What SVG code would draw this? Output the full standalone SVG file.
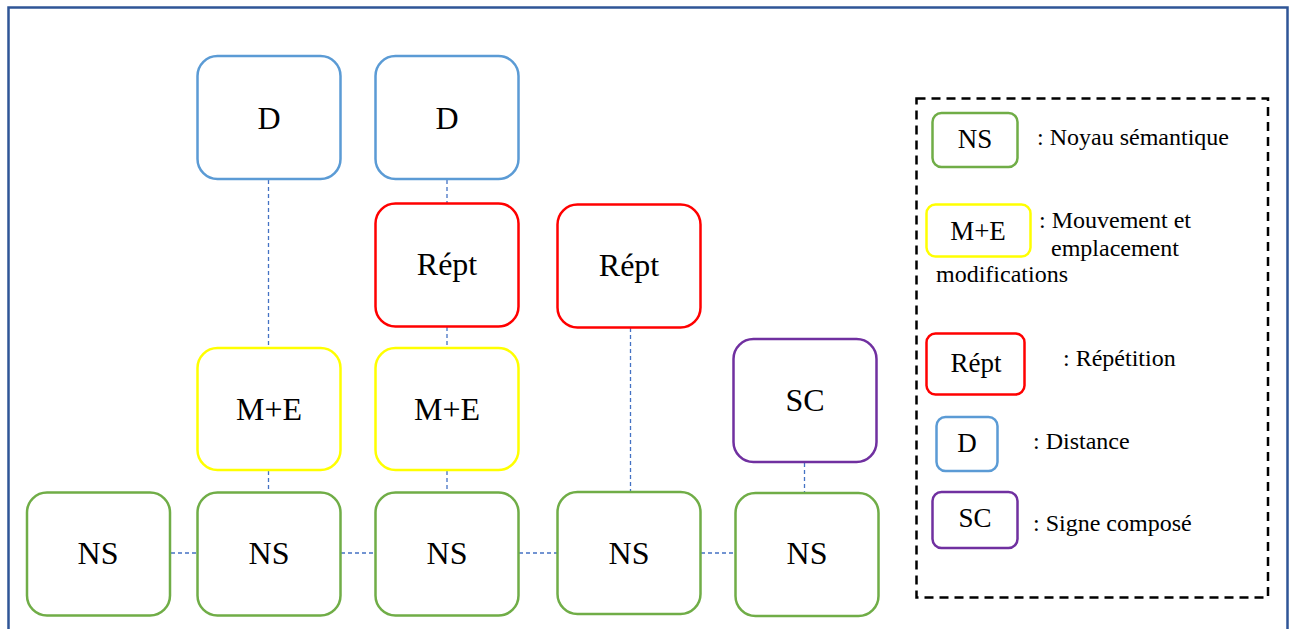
<svg xmlns="http://www.w3.org/2000/svg" width="1294" height="629" viewBox="0 0 1294 629">
<style>
.n{fill:#fff;stroke-width:2.5}
.ns{stroke:#70ad47}.d{stroke:#5b9bd5}.r{stroke:#ff0000}.me{stroke:#ffff00}.sc{stroke:#7030a0}
.t{font-size:32px;text-anchor:middle}
.lt{font-size:27px;text-anchor:middle}
.lb{font-size:24px}
.c line{stroke:#4472c4;stroke-width:1.3;stroke-dasharray:4 3}
</style>
<rect x="8.5" y="7.5" width="1279" height="700" fill="#fff" stroke="#2f5597" stroke-width="2.5"/>
<g class="c" id="connectors">
<line x1="268.5" y1="180" x2="268.5" y2="348"/>
<line x1="447" y1="180" x2="447" y2="203"/>
<line x1="447" y1="327" x2="447" y2="348"/>
<line x1="268.5" y1="471" x2="268.5" y2="492"/>
<line x1="447" y1="471" x2="447" y2="492"/>
<line x1="630.5" y1="328" x2="630.5" y2="492"/>
<line x1="804.5" y1="463" x2="804.5" y2="493"/>
<line x1="171" y1="553" x2="197" y2="553"/>
<line x1="341" y1="553" x2="375" y2="553"/>
<line x1="519" y1="553" x2="557" y2="553"/>
<line x1="701" y1="553" x2="735" y2="553"/>
</g>
<g font-family="Liberation Serif, Times New Roman, DejaVu Serif, serif" fill="#000">
<g id="d1"><rect class="n d" x="197.5" y="56" width="143" height="123" rx="20"/><text class="t" x="269" y="129">D</text></g>
<g id="d2"><rect class="n d" x="375.5" y="56" width="143" height="123" rx="20"/><text class="t" x="447" y="129">D</text></g>
<g id="rept1"><rect class="n r" x="375.5" y="203.5" width="143" height="123" rx="20"/><text class="t" x="447" y="275">Répt</text></g>
<g id="rept2"><rect class="n r" x="557.5" y="204.5" width="143" height="123" rx="20"/><text class="t" x="629" y="276">Répt</text></g>
<g id="me1"><rect class="n me" x="197.5" y="348" width="143" height="122" rx="20"/><text class="t" x="269" y="420">M+E</text></g>
<g id="me2"><rect class="n me" x="375.5" y="348" width="143" height="122" rx="20"/><text class="t" x="447" y="420">M+E</text></g>
<g id="sc"><rect class="n sc" x="733.5" y="339" width="143" height="123" rx="20"/><text class="t" x="805" y="411">SC</text></g>
<g id="ns1"><rect class="n ns" x="27" y="492.5" width="143" height="123" rx="20"/><text class="t" x="98" y="564">NS</text></g>
<g id="ns2"><rect class="n ns" x="197.5" y="492.5" width="143" height="123" rx="20"/><text class="t" x="269" y="564">NS</text></g>
<g id="ns3"><rect class="n ns" x="375.5" y="492.5" width="143" height="123" rx="20"/><text class="t" x="447" y="564">NS</text></g>
<g id="ns4"><rect class="n ns" x="557.5" y="492" width="143" height="122" rx="20"/><text class="t" x="629" y="564">NS</text></g>
<g id="ns5"><rect class="n ns" x="735.5" y="493" width="143" height="123" rx="20"/><text class="t" x="807" y="564">NS</text></g>
<g id="legend">
<rect x="916.5" y="98.5" width="351.5" height="499" fill="none" stroke="#000" stroke-width="2.5" stroke-dasharray="9 6"/>
<g id="leg-ns"><rect class="n ns" x="932.5" y="113" width="85" height="54" rx="9"/><text class="lt" x="975" y="148">NS</text><text class="lb" x="1037" y="145">: Noyau sémantique</text></g>
<g id="leg-me"><rect class="n me" x="926.5" y="204.5" width="104" height="52" rx="9"/><text class="lt" x="978" y="240">M+E</text><text class="lb" x="1039" y="228">: Mouvement et</text><text class="lb" x="1051" y="256">emplacement</text><text class="lb" x="936" y="282">modifications</text></g>
<g id="leg-r"><rect class="n r" x="926.5" y="333.5" width="98" height="61" rx="9"/><text class="lt" x="976" y="372">Répt</text><text class="lb" x="1063" y="366">: Répétition</text></g>
<g id="leg-d"><rect class="n d" x="936.5" y="417" width="61" height="54" rx="9"/><text class="lt" x="967" y="452">D</text><text class="lb" x="1033" y="449">: Distance</text></g>
<g id="leg-sc"><rect class="n sc" x="932.5" y="492" width="85" height="56" rx="9"/><text class="lt" x="975" y="527">SC</text><text class="lb" x="1033" y="531">: Signe composé</text></g>
</g>
</g>
</svg>
